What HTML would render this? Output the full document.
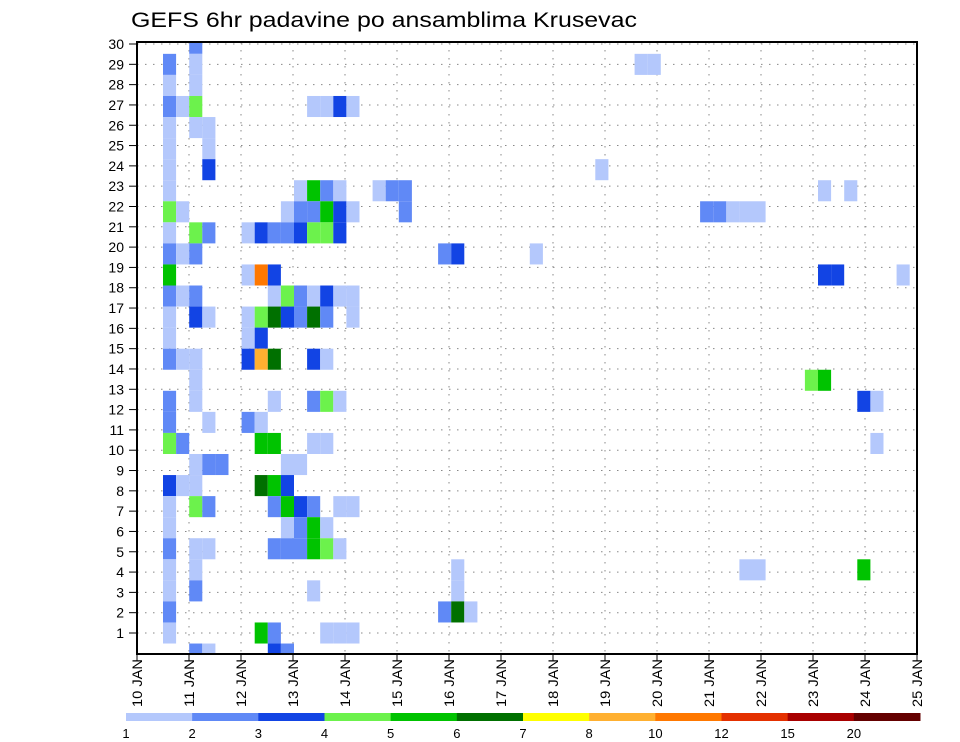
<!DOCTYPE html>
<html><head><meta charset="utf-8">
<style>
html,body{margin:0;padding:0;background:#fff;}
svg{display:block;font-family:"Liberation Sans",sans-serif;}
</style></head>
<body>
<svg id="chart" width="960" height="742" viewBox="0 0 960 742" xmlns="http://www.w3.org/2000/svg">
<text x="131" y="27" font-size="21" textLength="506" lengthAdjust="spacingAndGlyphs" fill="#000">GEFS 6hr padavine po ansamblima Krusevac</text>
<defs><clipPath id="plotclip"><rect x="137" y="42" width="780" height="612"/></clipPath></defs>
<g id="grid"></g>
<g id="cells" clip-path="url(#plotclip)"></g>
<rect x="137" y="42" width="780" height="612" fill="none" stroke="#000" stroke-width="2"/>
<g id="yaxis"></g>
<g id="xaxis"></g>
<g id="legend"></g>
</svg>
<script>
// ---- data ----
const legendLevels = ["1","2","3","4","5","6","7","8","10","12","15","20"];
const levelBounds = [1,2,3,4,5,6,7,8,10,12,15,20,1000];
const levelColors = ["#b4c8fc","#6089f6","#1244e4","#6cf24c","#00c300","#007000","#ffff00","#ffb030","#ff7800","#e43000","#a80000","#640000"];
const dayLabels = ["10 JAN","11 JAN","12 JAN","13 JAN","14 JAN","15 JAN","16 JAN","17 JAN","18 JAN","19 JAN","20 JAN","21 JAN","22 JAN","23 JAN","24 JAN","25 JAN"];
const memberTicks = [1,2,3,4,5,6,7,8,9,10,11,12,13,14,15,16,17,18,19,20,21,22,23,24,25,26,27,28,29,30];
// cells: 6-hourly step index, ensemble member row, precipitation (mm)
const cellSteps = [
4, 2,4,38,39, 2,4, 2,3,4,13,14,15,16, 2,4,5, 2,5, 2,5,35,
2,12,13,14,15,18,19,20,52,54,
2,3,11,12,13,14,15,16,20,43,44,45,46,47,
2,4,5,8,9,10,11,12,13,14,15,
2,3,4,23,24,30,
2,8,9,10,52,53,58,
2,3,4,10,11,12,13,14,15,16,
2,4,5,8,9,10,11,12,13,14,16,
2,8,9,
2,3,4,8,9,10,13,14,
4,51,52,
2,4,10,13,14,15,55,56,
2,5,8,9,
2,3,9,10,13,14,56,
4,5,6,11,12,
2,3,4,9,10,11,
2,4,5,10,11,12,13,15,16,
2,11,12,13,14,
2,4,5,10,11,12,13,14,15,
2,4,24,46,47,55,
2,4,13,24,
2,23,24,25,
2,9,10,14,15,16,
4,5,10,11];
const cellMembers = [
29, 28,28,28,28, 27,27, 26,26,26,26,26,26,26, 25,25,25, 24,24, 23,23,23,
22,22,22,22,22,22,22,22,22,22,
21,21,21,21,21,21,21,21,21,21,21,21,21,21,
20,20,20,20,20,20,20,20,20,20,20,
19,19,19,19,19,19,
18,18,18,18,18,18,18,
17,17,17,17,17,17,17,17,17,17,
16,16,16,16,16,16,16,16,16,16,16,
15,15,15,
14,14,14,14,14,14,14,14,
13,13,13,
12,12,12,12,12,12,12,12,
11,11,11,11,
10,10,10,10,10,10,10,
9,9,9,9,9,
8,8,8,8,8,8,
7,7,7,7,7,7,7,7,7,
6,6,6,6,6,
5,5,5,5,5,5,5,5,5,
4,4,4,4,4,4,
3,3,3,3,
2,2,2,2,
1,1,1,1,1,1,
0,0,0,0];
const cellValues = [
2.5, 2.5,1.5,1.5,1.5, 1.5,1.5, 2.5,1.5,4.5,1.5,1.5,3.5,1.5, 1.5,1.5,1.5, 1.5,1.5, 1.5,3.5,1.5,
1.5,1.5,5.5,2.5,1.5,1.5,2.5,2.5,1.5,1.5,
4.5,1.5,1.5,2.5,2.5,5.5,3.5,1.5,2.5,2.5,2.5,1.5,1.5,1.5,
1.5,4.5,2.5,1.5,3.5,2.5,2.5,3.5,4.5,4.5,3.5,
2.5,1.5,2.5,2.5,3.5,1.5,
5.5,1.5,11,3.5,3.5,3.5,1.5,
2.5,1.5,2.5,1.5,4.5,2.5,1.5,3.5,1.5,1.5,
1.5,3.5,1.5,1.5,4.5,6.5,3.5,2.5,6.5,2.5,1.5,
1.5,1.5,3.5,
2.5,1.5,1.5,3.5,9,6.5,3.5,1.5,
1.5,4.5,5.5,
2.5,1.5,1.5,2.5,4.5,1.5,3.5,1.5,
2.5,1.5,2.5,1.5,
4.5,2.5,5.5,5.5,1.5,1.5,1.5,
1.5,2.5,2.5,1.5,1.5,
3.5,1.5,1.5,6.5,5.5,3.5,
1.5,4.5,2.5,2.5,5.5,3.5,2.5,1.5,1.5,
1.5,1.5,2.5,5.5,1.5,
2.5,1.5,1.5,2.5,2.5,2.5,5.5,4.5,1.5,
1.5,1.5,1.5,1.5,1.5,5.5,
1.5,2.5,1.5,1.5,
2.5,2.5,6.5,1.5,
1.5,5.5,2.5,1.5,1.5,1.5,
2.5,1.5,3.5,2.5];

// ---- scales ----
const NS="http://www.w3.org/2000/svg";
function mk(tag, attrs, parent){const e=document.createElementNS(NS,tag);for(const k in attrs)e.setAttribute(k,attrs[k]);parent.appendChild(e);return e;}
const xDay = d => 137 + d*52;              // day axis
const xStep = s => 136.8 + s*13.1;         // cell left edge
const stepW = 13.1;
const yTick = n => 633 - (n-1)*20.31;      // member tick labels
const yCell = m => 633 - (m-1)*21.06;      // cell centre
const cellH = 21.06;
function colorFor(v){for(let i=0;i<levelColors.length;i++){if(v>=levelBounds[i]&&v<levelBounds[i+1])return levelColors[i];}return null;}

const grid=document.getElementById('grid');
memberTicks.forEach(n=>{
  const l=mk('line',{x1:137,x2:917,y1:yTick(n),y2:yTick(n),stroke:'#888','stroke-width':1,'stroke-dasharray':'1.5 6.5'},grid);
  
  
});
for(let d=1;d<15;d++){
  const l=mk('line',{x1:xDay(d),x2:xDay(d),y1:42,y2:654,stroke:'#888','stroke-width':1,'stroke-dasharray':'1.5 6.5'},grid);
  
  
}

const cg=document.getElementById('cells');
for(let i=0;i<cellSteps.length;i++){
  const c=colorFor(cellValues[i]); if(!c) continue;
  const r=mk('rect',{x:xStep(cellSteps[i]),y:yCell(cellMembers[i])-cellH/2,width:stepW,height:cellH,fill:c},cg);
  
  
}

const ya=document.getElementById('yaxis');
memberTicks.forEach(n=>{
  const t=mk('line',{x1:129,x2:137,y1:yTick(n),y2:yTick(n),stroke:'#000','stroke-width':1},ya);
  
  
  const tx=mk('text',{x:124,y:yTick(n)+5,'font-size':14,'text-anchor':'end',fill:'#000'},ya);
  tx.textContent=n;
  
  
});

const xa=document.getElementById('xaxis');
dayLabels.forEach((lab,d)=>{
  const t=mk('line',{x1:xDay(d),x2:xDay(d),y1:654,y2:661,stroke:'#000','stroke-width':1},xa);
  
  
  const tx=mk('text',{x:0,y:0,'font-size':14,'text-anchor':'start',fill:'#000',textLength:48,lengthAdjust:'spacingAndGlyphs',transform:`translate(${xDay(d)+5},707) rotate(-90)`},xa);
  tx.textContent=lab;
  
  
});

const lg=document.getElementById('legend');
const lx0=126, lw=(920-126)/levelColors.length;
levelColors.forEach((c,i)=>{
  const r=mk('rect',{x:lx0+i*lw,y:713,width:lw+0.5,height:8,fill:c},lg);
  
  
});
legendLevels.forEach((lab,i)=>{
  const tx=mk('text',{x:lx0+i*lw,y:738,'font-size':13,'text-anchor':'middle',fill:'#000'},lg);
  tx.textContent=lab;
  
  
});
</script>
</body></html>
